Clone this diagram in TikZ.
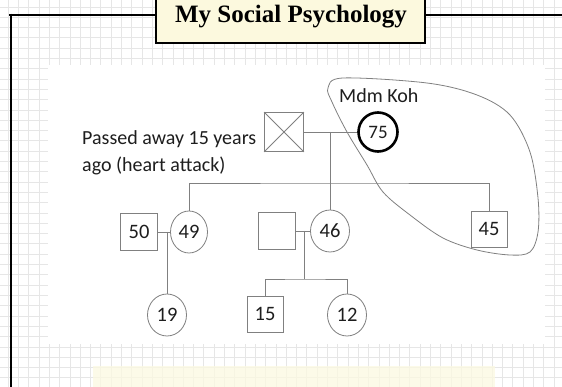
\documentclass[tikz,border=0pt]{standalone}
\usepackage{fontspec}
\setmainfont{Carlito}
\newfontfamily\titlefont{Liberation Serif}
\usetikzlibrary{shapes.geometric}
\definecolor{gridc}{RGB}{230,230,230}
\definecolor{linec}{RGB}{128,128,128}
\definecolor{txt}{RGB}{30,30,30}
\definecolor{titlebg}{RGB}{252,249,222}
\definecolor{notebg}{RGB}{252,249,225}
\begin{document}
\begin{tikzpicture}[x=1pt,y=-1pt,
  gridline/.style={draw=gridc,line width=0.6pt},
  frameline/.style={line width=2.6pt,draw=black},
  conn/.style={draw=linec,line width=0.8pt},
  male/.style={draw=linec,line width=0.8pt,rectangle,minimum size=36pt,inner sep=0pt,fill=white,text=txt,font=\fontsize{20.5}{24}\selectfont},
  female/.style={draw=linec,line width=0.8pt,ellipse,minimum width=39pt,minimum height=42pt,inner sep=0pt,fill=white,text=txt,font=\fontsize{20.5}{24}\selectfont},
  lbl/.style={text=txt,inner sep=0pt,font=\fontsize{20}{24}\selectfont}
]
\useasboundingbox (0,0) rectangle (562,387);
\fill[white] (0,0) rectangle (562,387);
\foreach \k in {0,...,54} \draw[gridline] ({8+10.3*\k},0) -- ({8+10.3*\k},387);
\foreach \k in {0,...,37} \draw[gridline] (0,{6.9+10.3*\k}) -- (562,{6.9+10.3*\k});
\fill[white] (48,65) rectangle (545,344);
\fill[notebg,opacity=0.75] (93,366) rectangle (495,390);
% frame
\draw[frameline] (9,15) -- (156,15);
\draw[frameline] (425,15) -- (565,15);
\draw[frameline] (11,13.7) -- (11,392);
\node[frameline,fill=titlebg,rectangle,minimum width=269pt,minimum height=48pt,inner sep=0pt] (titlebox) at (290.5,19) {};
\node[inner sep=0pt,anchor=base,font=\titlefont\bfseries\fontsize{25}{30}\selectfont] (title) at (291,23) {My Social Psychology};
% group outline
\draw[draw=linec,line width=0.8pt] plot[smooth cycle,tension=0.55] coordinates {(343,78) (427,83) (477,95) (510,115) (530,152) (538,198) (538,232) (530,252) (510,255) (477,250) (443,238) (410,215) (383,192) (367,165) (347,132) (332,102) (328,88)};
% generation 1
\node[male,minimum size=39pt] (dm) at (284,132) {};
\draw[conn] (dm.north west) -- (dm.south east) (dm.north east) -- (dm.south west);
\node[circle,draw=black,line width=2.6pt,minimum size=39pt,inner sep=0pt,fill=white,text=txt,font=\fontsize{19}{22}\selectfont] (mk) at (378,132) {75};
\node[lbl,anchor=base west] (mdm) at (339,103) {Mdm Koh};
\node[lbl,anchor=base west] (pa1) at (82,145) {Passed away 15 years};
\node[lbl,anchor=base west] (pa2) at (82,172) {ago (heart attack)};
\coordinate (m1) at (330,132);
\draw[conn] (dm) -- (mk);
% generation 2
\node[female] (c46) at (330,231) {46};
\draw[conn] (m1) -- (c46);
\node[female,minimum width=37pt] (c49) at (189,232) {49};
\node[male] (s45) at (489,229) {45};
\coordinate (sib1) at (330,183);
\draw[conn] (c49.north) |- (sib1) -| (s45.north);
\node[male,minimum size=37pt] (s50) at (139,232) {50};
\draw[conn] (s50) -- (c49);
\coordinate (m2) at (167,232);
\node[female] (c19) at (167,315) {19};
\draw[conn] (m2) -- (c19);
\node[male,minimum size=37pt] (sB) at (277,231) {};
\draw[conn] (sB) -- (c46);
\coordinate (m3) at (304,231);
\coordinate (sib2) at (304,279);
\draw[conn] (m3) -- (sib2);
% generation 3
\node[male] (s15) at (265,314) {15};
\node[female] (c12) at (347,315) {12};
\draw[conn] (s15.north) |- (sib2) -| (c12.north);
\end{tikzpicture}
\end{document}
